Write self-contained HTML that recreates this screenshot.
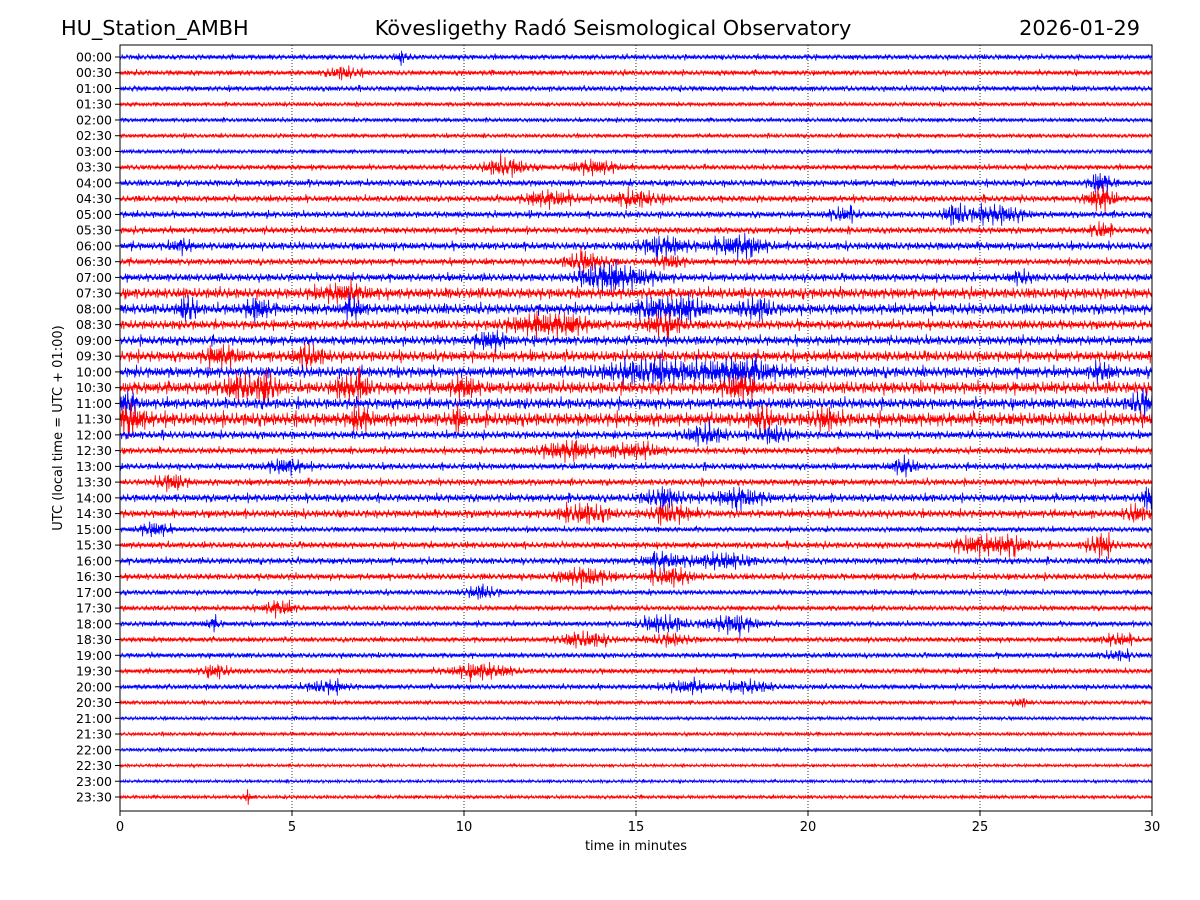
<!DOCTYPE html>
<html><head><meta charset="utf-8"><style>
html,body{margin:0;padding:0;background:#fff;}
svg{display:block;font-family:"DejaVu Sans","Liberation Sans",sans-serif;}
</style></head><body>
<svg id="chart" width="1200" height="900" viewBox="0 0 1200 900">
<rect width="1200" height="900" fill="#fff"/>
<text x="61" y="35" font-size="20.8">HU_Station_AMBH</text>
<text x="613" y="35" font-size="20.8" text-anchor="middle">Kövesligethy Radó Seismological Observatory</text>
<text x="1140" y="35" font-size="20.8" text-anchor="end">2026-01-29</text>
<g id="grid"></g>
<g id="traces"></g>
<rect x="120" y="45" width="1032" height="766" fill="none" stroke="#000" stroke-width="1"/>
<g id="axes"></g>
<text x="636" y="850" font-size="13" text-anchor="middle">time in minutes</text>
<text transform="translate(62,428) rotate(-90)" font-size="13" text-anchor="middle">UTC (local time = UTC + 01:00)</text>
</svg>
<script>
const rowLabels = ["00:00","00:30","01:00","01:30","02:00","02:30","03:00","03:30","04:00","04:30","05:00","05:30","06:00","06:30","07:00","07:30","08:00","08:30","09:00","09:30","10:00","10:30","11:00","11:30","12:00","12:30","13:00","13:30","14:00","14:30","15:00","15:30","16:00","16:30","17:00","17:30","18:00","18:30","19:00","19:30","20:00","20:30","21:00","21:30","22:00","22:30","23:00","23:30"];
const rowBase = [2,2,2,1.6,1.6,1.6,1.6,2,2.5,2.5,2.5,2.5,3,2.5,3,4,4,3.5,3.5,4,4,4.5,4,5,3,2.5,2.5,2.5,3,3,2,2.5,2.5,2.5,2,2,2,2,2,2,2,1.6,1.4,1.4,1.4,1.2,1.2,1.4];
// bursts: row, minute, half-amplitude (px), width (minutes)
const burstRow = [0,1,7,7,8,9,9,9,10,10,10,11,12,12,12,13,13,14,14,14,15,16,16,16,16,16,16,17,17,17,18,19,19,20,20,20,21,21,21,21,21,21,22,22,23,23,23,23,23,24,24,25,25,26,26,27,28,28,28,29,29,29,30,31,31,31,32,32,33,33,34,35,36,36,36,37,37,37,38,39,39,40,40,40,41,47];
const burstMin = [8.2,6.5,11.2,13.8,28.5,12.5,15,28.5,24.3,25.5,21,28.5,1.8,15.8,18,13.5,16,14,15,26.2,6.5,2,4,6.8,15.5,16.5,18.5,12,13,15.8,10.8,3,5.5,15.5,18,28.5,3.5,4.3,6.5,7,18,10,0.2,29.7,0.3,7,9.8,18.7,20.5,17,19,13,15,4.8,22.8,1.5,15.8,18,29.9,13.5,16,29.5,1,24.8,25.8,28.5,15.8,17.5,13.5,16,10.5,4.6,2.7,15.8,17.8,13.5,16,29,29,10.5,2.8,6,16.5,18.3,26.2,3.7];
const burstAmp = [3,4,6,5,8,5,5,9,7,6,4,5,4,6,7,6,4,9,5,4,5,9,7,6,7,8,6,5,5,6,6,6,6,7,8,6,8,9,7,7,8,7,7,7,8,7,9,9,6,6,5,6,5,5,6,5,6,6,8,6,6,6,5,6,6,8,5,5,6,6,4,5,4,6,6,5,4,4,3,5,4,4,4,4,3,3];
const burstWid = [0.3,0.6,0.9,0.9,0.4,1,1,0.5,0.5,1,0.6,0.4,0.4,1,1,0.8,0.6,0.9,1,0.4,1,0.3,0.5,0.4,0.8,0.6,0.7,1.2,1,0.8,0.6,0.7,0.6,2,1.5,0.4,0.7,0.4,0.4,0.4,0.6,0.5,0.4,0.5,0.6,0.4,0.2,0.3,0.5,0.8,0.7,1.2,1,0.7,0.5,0.6,0.8,1,0.3,1,0.8,0.4,0.6,0.8,0.9,0.5,0.8,1.1,1,0.8,0.7,0.6,0.3,0.9,1,1,0.8,0.6,0.6,1.2,0.6,0.8,0.9,0.9,0.3,0.2];
const xTicks = [0,5,10,15,20,25,30];

const X0=120,X1=1152,Y0=57,DY=(797-57)/47;
const xs = m => X0 + (X1-X0)*m/30;
const ys = r => Y0 + r*DY;
const NS="http://www.w3.org/2000/svg";
function mk(tag,attrs,parent){const e=document.createElementNS(NS,tag);for(const k in attrs)e.setAttribute(k,attrs[k]);parent.appendChild(e);return e;}
const grid=document.getElementById('grid'),traces=document.getElementById('traces'),axes=document.getElementById('axes');

xTicks.forEach(t=>{
  const x=xs(t);
  if(t>0&&t<30){const g=mk('line',{x1:x,x2:x,y1:45,y2:811,stroke:'#000','stroke-width':0.8,'stroke-dasharray':'1,2'},grid);
    
    }
  const tk=mk('line',{x1:x,x2:x,y1:811,y2:816,stroke:'#000'},axes);
  
  
  const lb=mk('text',{x:x,y:831,'font-size':13,'text-anchor':'middle'},axes);
  lb.textContent=t;
  
  
});

rowLabels.forEach((lab,r)=>{
  const y=ys(r);
  const tk=mk('line',{x1:115,x2:120,y1:y,y2:y,stroke:'#000'},axes);
  
  
  const t=mk('text',{x:112,y:y+4.5,'font-size':12.5,'text-anchor':'end'},axes);
  t.textContent=lab;
  
  
  const pts=[];
  const step=0.55;
  for(let i=0;i*step<=X1-X0;i++){
    const px=i*step;
    const m=px*30/(X1-X0);
    let a=rowBase[r];
    for(let b=0;b<burstRow.length;b++){
      if(burstRow[b]!==r)continue;
      const d=(m-burstMin[b])/burstWid[b];
      a+=burstAmp[b]*Math.exp(-d*d*2);
    }
    let mag=Math.abs(Math.sin(i*1.913+r)*0.5+Math.sin(i*0.4137+r*2)*0.35+Math.sin(i*0.0713+r)*0.25)*1.4;
    if(Math.sin(i*0.2371+r)*Math.sin(i*0.0531+r*0.3)>0.85) mag*=1.8;
    const c=(i%2?1:-1)*Math.min(mag,1.8);
    pts.push((X0+px).toFixed(1)+','+(y+a*c).toFixed(1));
  }
  const pl=mk('polyline',{points:pts.join(' '),fill:'none',stroke:r%2===0?'#0000ff':'#ff0000','stroke-width':0.8},traces);
  
  
});
</script>
</body></html>
